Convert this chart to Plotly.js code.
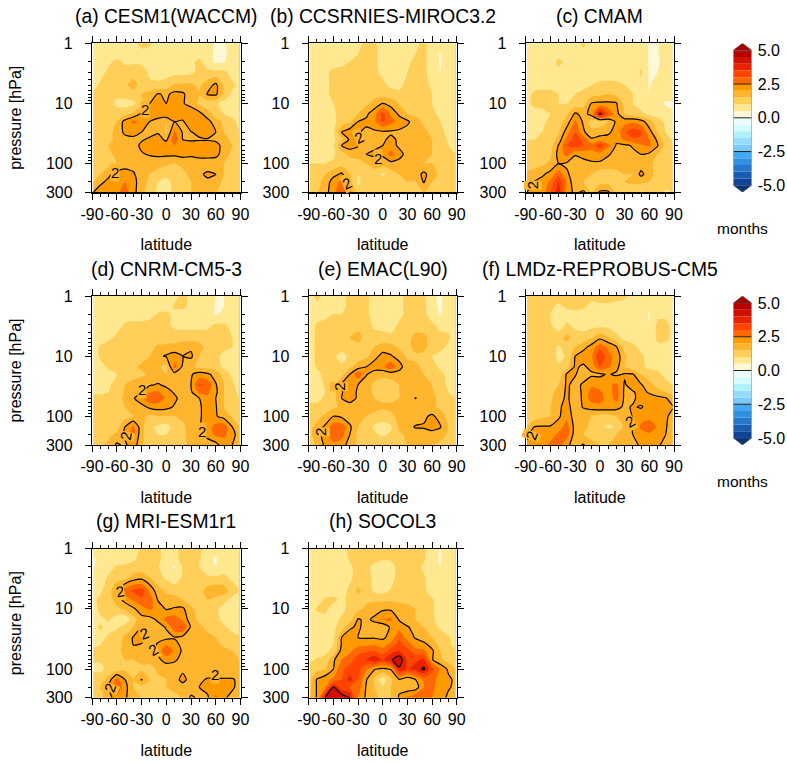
<!DOCTYPE html>
<html><head><meta charset="utf-8">
<script src="https://cdn.plot.ly/plotly-3.0.1.min.js"></script>
<style>html,body{margin:0;padding:0;background:#fff}</style></head>
<body><div id="chart" style="width:787px;height:762px"></div>
<script>
const lats=[-88.5,-80,-70,-60,-50,-40,-30,-20,-10,0,10,20,30,40,50,60,70,80,88.5];
const pressures=[1,1.5,2,3,5,7,10,15,20,30,40,50,70,100,150,200,300];
const panelTitles=['(a) CESM1(WACCM)','(b) CCSRNIES-MIROC3.2','(c) CMAM','(d) CNRM-CM5-3','(e) EMAC(L90)','(f) LMDz-REPROBUS-CM5','(g) MRI-ESM1r1','(h) SOCOL3'];
const latTicks=[-90,-60,-30,0,30,60,90];
const pTicks=[1,10,100,300];
const barTicks=[5,2.5,0,-2.5,-5];
const barLabels=['5.0','2.5','0.0','-2.5','-5.0'];
const barColors=['#0f4397','#1a5cb0','#2578cc','#3190e2','#45a8f5','#7ccbff','#96dcff','#b0f0ff','#d4fbff','#ebfdff',
 '#fff8d8','#ffe88f','#ffcf5a','#ffb52e','#ff9a00','#ff6800','#ff4300','#e82400','#d21000','#b70000'];
const triTop='#a30000', triBottom='#0b3478';
// contour labels of the 2-month line: [latitude, pressure, angle]
const labelsA=[[-25.6,12.8,0],[-62.6,139,0]];
const labelsB=[[-28.4,37,-25],[-6,81.5,0],[-43.8,218,-25]];
const labelsC=[[-80.7,226,-90]];
const labelsD=[[-28.8,35.6,0],[-48.5,212,-80],[43,180,0]];
const labelsE=[[-53,32,-90],[-75.4,184,-90]];
const labelsF=[[-82.7,212,-70],[36.7,123,-30]];
const labelsG=[[-56,5.2,-10],[-26.8,25.5,-20],[-15.6,46.5,-30],[-67.9,204,-70],[59,123,0]];
const labelsH=[];

const zA=[
[.8,.8,.8,.8,.8,.9,1.1,1.1,.8,.8,.8,.8,.8,.8,.7,.4,.4,.8,.8],
[.8,.8,.8,.8,.8,.8,.9,.8,.8,.8,.8,.8,.8,.8,.7,.4,.4,.7,.8],
[.8,.8,.9,1.1,.9,.9,.9,.8,.8,.8,.8,.8,.9,1.1,.8,.4,.45,.7,.8],
[.8,.8,1.1,1.2,1.2,1.3,1.2,.9,.8,.8,.8,.8,.9,1.1,1.1,1.1,1.1,.8,.8],
[.8,1.1,1.2,1.1,1.4,1.7,1.3,1.1,1.1,1.2,1.6,1.6,1.6,1.4,1.75,2.15,1.4,1.1,.9],
[1.1,1.2,1.2,1.1,1.2,1.3,1.5,1.7,2.05,1.9,2.15,2.1,1.7,1.5,2.05,2.1,1.4,.9,.8],
[1.1,1.2,1.2,.9,.8,.9,1.3,2.0,2.3,2.0,2.3,2.05,1.8,1.4,1.2,1.1,.8,.8,.8],
[1.2,1.2,1.3,1.2,1.3,1.6,2.1,2.3,2.4,2.4,2.4,2.2,2.4,2.2,1.7,1.3,1.0,.9,.8],
[1.3,1.3,1.4,1.5,2.2,2.6,2.4,2.0,1.7,1.5,2.0,1.95,2.3,2.4,2.2,1.7,1.4,1.1,.9],
[1.3,1.3,1.4,1.6,2.15,2.2,2.0,1.8,1.95,1.4,2.6,1.95,1.98,2.1,2.3,2.0,1.5,1.2,1.0],
[1.3,1.3,1.4,1.6,1.75,1.85,1.95,2.1,2.2,1.9,2.8,2.0,1.95,1.95,1.95,1.9,1.7,1.4,1.2],
[1.3,1.4,1.5,1.6,1.7,1.8,2.1,2.3,2.4,2.3,2.5,2.4,2.2,2.3,2.3,2.2,1.8,1.5,1.3],
[1.2,1.3,1.4,1.6,1.7,1.8,1.95,2.05,2.1,2.1,2.1,2.2,2.1,2.2,2.2,2.2,1.7,1.4,1.3],
[1.1,1.1,1.3,1.5,1.7,1.7,1.7,1.7,1.7,1.6,1.5,1.6,1.7,1.7,1.7,1.6,1.5,1.3,1.2],
[1.2,1.5,1.9,2.2,2.3,2.1,1.6,1.5,1.3,1.1,1.3,1.4,1.6,1.9,2.1,2.0,1.5,1.3,1.2],
[1.5,1.9,2.1,2.2,2.5,2.2,1.7,1.4,1.0,.9,1.1,1.4,1.5,1.7,1.9,1.7,1.4,1.3,1.2],
[2.0,2.2,2.3,2.4,2.7,2.2,1.6,1.3,.9,.8,1.1,1.3,1.5,1.6,1.5,1.5,1.4,1.3,1.2]];
const zB=[
[.7,.8,.8,.8,.8,.8,.9,1.1,1.1,.8,.8,.8,.8,.9,1.1,.8,.8,.8,.8],
[.7,.8,.8,.8,.8,.9,1.0,1.2,1.1,.8,.8,.8,.9,1.0,1.1,.8,.45,.8,.8],
[.8,.8,.8,.8,.9,1.0,1.1,1.2,1.1,.8,.8,.8,.9,1.1,1.1,.8,.45,.8,.8],
[.6,.8,.9,1.1,1.1,1.1,1.2,1.3,1.1,.9,.8,.8,1.0,1.1,1.1,.8,.5,.8,.8],
[.8,.8,.9,1.1,1.2,1.2,1.2,1.3,1.2,1.1,.9,.9,1.1,1.2,1.2,.9,.8,.8,.8],
[.8,.8,.9,1.1,1.2,1.2,1.2,1.3,1.3,1.3,1.2,1.1,1.2,1.3,1.2,1.0,.8,.8,.8],
[.8,.8,.8,1.0,1.2,1.3,1.3,1.4,1.7,2.0,1.8,1.5,1.3,1.3,1.2,1.0,.9,.8,.8],
[.8,.8,.8,.9,1.2,1.3,1.5,1.9,2.3,3.2,2.4,1.9,1.5,1.4,1.3,1.1,.9,.8,.8],
[.8,.8,.8,.9,1.2,1.4,2.0,2.1,2.4,3.1,2.7,2.3,2.1,1.7,1.4,1.2,1.0,.8,.8],
[.8,.8,.8,.9,2.0,2.3,2.05,1.9,1.9,1.9,1.9,1.9,1.8,2.0,1.6,1.4,1.1,.9,.8],
[.8,.8,.8,.9,1.3,2.1,2.05,1.85,1.8,1.9,2.15,1.9,1.8,1.7,1.7,1.5,1.2,.95,.85],
[.8,.8,.8,.9,2.0,2.3,2.05,1.8,1.9,2.0,2.2,1.9,1.8,1.7,2.0,1.5,1.3,1.0,.9],
[1.0,.9,.8,.9,1.3,1.6,1.7,2.0,2.1,2.1,2.7,2.2,1.8,1.7,1.6,1.5,1.3,1.2,1.0],
[1.0,1.0,1.0,1.1,1.3,1.3,1.3,1.5,1.7,1.7,1.8,1.8,1.7,1.6,1.5,1.5,1.4,1.3,1.1],
[1.3,1.4,1.5,1.8,2.1,1.5,1.0,1.2,1.3,.9,1.3,1.5,1.6,1.7,2.15,1.7,1.4,1.3,1.2],
[1.3,1.4,1.6,2.3,2.6,1.7,.9,1.2,1.3,1.2,1.3,1.5,1.5,1.5,2.05,1.5,1.4,1.3,1.2],
[1.3,1.4,1.8,2.3,3.0,2.1,1.2,1.3,1.3,1.3,1.3,1.5,1.5,1.5,1.5,1.5,1.4,1.3,1.2]];
const zC=[
[.8,.8,.8,.8,.8,.8,.8,1.1,.8,.8,.8,.8,.8,.8,.8,.45,.45,.8,.8],
[.8,.8,.8,.8,.8,.8,.8,.9,.8,.8,.8,.8,.8,.8,.8,.45,.45,.8,.8],
[.8,.8,.8,.8,1.1,.9,.8,.8,.8,.8,.8,.8,.8,.8,.9,.45,.4,.8,.8],
[.8,.8,.8,.8,.9,.8,.8,.8,.8,.8,.8,.8,.8,.8,1.05,.45,.5,.8,.8],
[.8,.8,.8,.8,.9,.8,.8,.9,1.0,1.1,1.1,1.1,1.0,.9,.9,.45,.8,.8,.8],
[.8,1.1,1.2,1.2,1.0,.9,1.0,1.1,1.3,1.4,1.5,1.4,1.2,1.0,.8,.5,.8,.8,.8],
[.9,1.1,1.1,1.1,1.0,1.0,1.2,1.3,2.05,2.1,2.1,2.05,1.3,1.0,.8,.7,.8,.4,.4],
[.8,.8,.9,1.0,1.2,1.4,2.1,1.8,2.2,4.15,3.0,2.2,1.5,1.3,1.1,.9,.8,.8,.6],
[.8,.8,.9,1.1,1.3,1.7,2.6,1.9,1.3,1.3,1.5,2.1,2.3,2.4,2.2,1.7,1.2,.9,.8],
[.9,.9,1.0,1.1,1.4,2.3,3.0,2.1,1.6,1.7,1.9,2.2,2.9,3.3,3.1,2.2,1.5,1.0,.9],
[1.0,1.0,1.1,1.2,1.7,2.7,3.2,2.9,2.1,2.3,2.2,2.1,2.6,2.9,2.9,2.5,1.9,1.2,.95],
[1.1,1.1,1.2,1.3,2.05,3.0,3.3,3.0,2.7,3.4,2.6,1.95,1.9,2.05,2.4,2.6,2.05,1.3,1.0],
[1.3,1.2,1.3,1.4,2.2,2.7,2.05,2.2,2.3,2.3,2.05,1.85,1.9,1.9,2.0,1.9,1.5,1.2,1.1],
[1.3,1.3,1.4,1.6,2.0,1.9,1.7,1.8,1.9,1.9,1.8,1.8,1.7,1.7,1.7,1.7,1.2,1.0,1.0],
[1.6,1.7,1.9,2.2,2.8,2.1,1.7,1.6,1.5,1.2,1.2,1.3,1.5,1.5,2.15,1.7,1.3,1.3,1.3],
[1.8,2.0,2.2,2.6,3.5,2.4,1.6,1.5,1.4,1.3,1.3,1.4,1.5,1.6,1.6,1.5,1.3,1.3,1.3],
[2.0,2.1,2.2,3.0,3.8,2.2,1.9,2.1,1.5,2.1,2.1,1.4,1.4,1.2,.9,1.3,1.2,.9,1.0]];
const zD=[
[.8,.8,.8,.8,.8,.8,.8,.8,.8,.8,.9,1.1,.9,.8,.8,.5,.5,.8,.8],
[.8,.8,.8,.8,.8,.8,.8,.8,.8,.8,1.05,1.1,.9,.8,.8,.45,.5,.8,.8],
[.8,.8,.8,.8,.8,.8,.8,.8,1.05,1.1,.9,.8,.8,.8,.8,.45,.6,.8,.8],
[.8,.8,.8,.8,1.05,1.1,1.1,1.2,1.2,1.1,.9,.8,.8,.8,.9,1.05,1.05,.9,.8],
[.8,.8,.9,1.1,1.2,1.2,1.3,1.2,1.1,1.1,1.2,1.3,1.3,1.3,1.2,1.2,1.1,1.0,.8],
[.8,1.05,1.2,1.2,1.2,1.2,1.3,1.3,1.6,1.7,1.7,1.8,1.9,1.7,1.3,1.2,1.1,1.0,.9],
[.8,1.05,1.1,1.1,1.2,1.3,1.3,1.5,1.9,2.05,2.2,2.0,2.1,1.5,1.3,1.1,.9,.9,.9],
[.8,.9,1.05,1.1,1.2,1.4,1.6,1.7,1.6,1.3,2.7,1.9,1.6,1.4,1.3,1.2,.9,.8,.8],
[.8,.8,.9,1.0,1.2,1.3,1.4,1.6,1.7,1.5,1.8,1.8,1.95,2.2,2.1,1.8,1.3,.9,.8],
[.8,.8,.9,1.2,1.5,1.7,1.8,1.95,2.05,1.9,1.8,1.6,2.0,3.1,2.9,2.05,1.5,1.1,.8],
[.95,.95,1.0,1.25,1.55,1.75,1.95,2.5,2.6,2.2,1.95,1.7,1.9,2.6,2.6,2.1,1.5,1.15,.9],
[1.1,1.1,1.1,1.3,1.6,1.95,2.3,3.0,2.9,2.4,2.1,1.8,1.7,2.0,2.4,2.0,1.5,1.2,1.0],
[1.1,1.1,1.1,1.3,1.5,1.7,1.85,2.1,2.2,2.15,1.95,1.7,1.7,1.9,2.3,2.05,1.5,1.2,1.0],
[1.1,1.1,1.1,1.2,1.3,1.5,1.6,1.4,1.5,1.5,1.5,1.6,1.6,1.9,2.3,2.05,1.8,1.4,1.2],
[1.2,1.2,1.2,1.3,2.0,2.6,1.7,1.1,.9,.8,1.2,1.4,1.7,1.95,2.3,2.7,2.8,2.0,1.5],
[1.2,1.2,1.4,1.6,2.1,2.8,1.6,1.2,1.0,1.0,1.3,1.4,1.7,1.95,2.2,2.6,2.6,2.3,1.6],
[1.3,1.4,1.6,2.1,1.9,2.3,1.6,1.2,1.2,1.2,1.3,1.4,1.6,1.9,1.7,1.8,2.3,2.0,1.6]];
const zE=[
[.8,1.1,.9,.8,.9,1.1,1.2,1.1,.8,.8,.8,.9,1.1,1.2,1.1,.6,.4,.8,.8],
[.8,.9,.8,.8,.9,1.1,1.2,1.1,.8,.8,.8,.9,1.1,1.2,1.1,.7,.4,.8,.8],
[.8,.8,.9,1.0,1.0,1.1,1.2,1.1,.8,.8,.8,.9,1.1,1.2,1.1,.8,.45,.8,.8],
[.8,1.05,1.1,1.2,1.2,1.3,1.3,1.2,.9,.8,.8,1.05,1.2,1.2,1.1,1.05,.9,.9,.8],
[.8,1.1,1.2,1.2,1.2,1.5,1.7,1.3,1.2,1.2,1.1,1.2,1.3,1.7,1.7,1.2,1.1,1.05,.8],
[.8,1.1,1.2,1.2,1.2,1.3,1.3,1.3,1.5,1.7,1.7,1.4,1.3,1.7,1.7,1.2,1.2,.9,.8],
[.8,1.1,1.2,1.1,.8,1.1,1.3,1.4,1.8,2.2,2.05,1.8,1.4,1.4,1.3,1.0,.8,.8,.8],
[.8,1.05,1.2,1.2,1.1,1.4,1.7,2.0,2.3,2.4,2.9,2.2,1.7,1.6,1.4,1.2,.9,.8,.8],
[.8,.9,1.1,1.2,1.3,2.0,2.9,2.05,1.7,1.6,1.7,1.8,1.9,1.8,1.5,1.3,1.1,.9,.8],
[.8,.8,1.05,1.3,2.05,2.4,2.0,1.7,1.4,1.3,1.3,1.5,1.7,1.8,1.7,1.5,1.2,.9,.8],
[.85,.85,1.0,1.3,1.95,2.35,1.9,1.6,1.45,1.35,1.35,1.5,1.7,1.85,1.7,1.55,1.3,1.0,.9],
[.9,.9,1.05,1.3,2.0,2.3,1.9,1.6,1.5,1.4,1.4,1.5,1.7,2.02,1.7,1.6,1.4,1.1,1.0],
[1.1,1.1,1.2,1.4,1.6,1.7,1.7,1.7,1.6,1.6,1.6,1.6,1.6,1.7,1.7,1.6,1.4,1.2,1.1],
[1.2,1.3,1.6,2.0,1.9,1.7,1.6,1.5,1.4,1.2,1.4,1.6,1.7,1.7,1.9,2.1,1.8,1.3,1.2],
[1.3,1.7,2.1,2.8,2.8,2.1,1.5,1.3,.9,.8,.9,1.6,1.8,2.05,2.05,2.2,2.05,1.5,1.3],
[1.3,1.8,2.2,3.0,2.7,2.0,1.4,1.3,1.1,.9,1.1,1.4,1.6,1.7,1.8,1.8,1.7,1.4,1.3],
[1.3,1.6,2.1,2.3,2.2,1.8,1.4,1.3,1.3,1.3,1.3,1.4,1.5,1.5,1.5,1.5,1.4,1.3,1.3]];
const zF=[
[1.1,1.2,1.2,1.2,1.2,1.2,1.1,1.1,1.1,1.2,1.2,1.1,1.05,.9,.8,.7,.9,.9,.9],
[1.1,1.2,1.2,1.1,.9,1.1,1.1,1.05,.9,.9,.9,.9,.9,.8,.7,.6,.9,.9,.9],
[1.1,1.2,1.2,1.0,.8,.8,.9,.9,.8,.8,.8,.8,.8,.8,.8,.45,.9,.9,.9],
[1.1,1.1,1.1,1.05,.8,1.05,.9,.8,.8,.8,.8,.8,.8,.8,.8,.5,1.1,1.1,.9],
[1.1,1.1,1.1,1.2,1.2,1.7,1.2,1.2,1.5,1.9,1.6,1.1,.9,.8,.8,.6,1.1,1.1,.9],
[1.1,1.1,1.1,1.2,.95,1.2,1.5,1.8,2.2,2.8,2.4,2.05,1.3,1.1,.9,.5,.9,.9,.9],
[1.1,1.1,1.2,1.2,.9,1.05,2.0,2.3,2.4,3.5,2.7,2.3,1.6,1.2,1.05,.9,.9,.9,.9],
[1.1,1.1,1.1,1.2,1.05,1.3,2.1,1.9,2.2,3.0,2.6,2.2,1.5,1.2,1.1,.9,.9,.9,.9],
[1.1,1.1,1.1,1.2,1.1,2.1,2.05,1.7,1.9,1.9,2.05,1.9,2.05,2.05,1.5,1.2,1.1,.9,.9],
[1.1,1.1,1.2,1.3,1.5,2.1,1.8,2.1,2.4,2.3,2.4,2.6,1.95,2.2,2.05,1.7,1.3,1.1,1.0],
[1.15,1.15,1.25,1.35,1.7,2.1,1.75,2.1,2.7,2.6,2.2,2.75,1.9,1.95,2.15,1.95,1.7,1.5,1.2],
[1.2,1.2,1.3,1.4,1.8,2.1,1.7,2.1,2.8,2.8,2.2,2.7,1.9,1.9,2.2,2.2,2.15,2.05,1.7],
[1.2,1.2,1.3,1.5,1.9,2.2,1.7,2.05,2.2,2.3,2.3,2.2,1.9,2.05,1.95,2.2,2.3,2.3,2.05],
[1.2,1.2,1.4,1.5,1.9,2.4,1.7,1.6,1.5,1.3,1.3,1.5,1.6,2.05,2.3,2.3,2.2,2.1,1.8],
[1.5,2.0,2.05,2.05,2.3,2.7,1.8,1.8,1.2,1.1,.9,1.05,1.6,2.05,2.6,2.9,2.4,2.05,1.7],
[1.9,2.2,2.2,2.3,2.6,2.8,1.7,1.5,1.4,1.3,1.4,1.5,1.7,2.0,2.3,2.4,2.3,2.0,1.7],
[2.1,2.2,2.3,2.6,2.7,2.1,1.8,2.05,1.6,1.5,1.5,1.6,1.8,1.9,2.05,2.1,2.05,1.9,1.7]];
const zG=[
[.8,.8,.8,.8,.8,.8,1.1,1.2,1.05,.9,.9,1.1,1.2,1.1,.8,.6,.8,.8,.8],
[.45,.6,.8,.8,.8,.9,1.2,1.2,1.05,.9,.9,1.1,1.2,1.05,.6,.45,.8,.8,.8],
[.45,.7,.8,1.05,1.1,1.2,1.2,1.2,1.05,.6,.45,1.05,1.1,1.0,.8,.5,.8,.8,.8],
[.7,.8,1.05,1.3,1.3,1.7,1.8,1.5,1.2,.9,.7,1.05,1.1,1.05,1.05,1.05,1.1,.9,.8],
[.8,.9,1.3,1.9,2.8,3.1,3.3,2.4,1.7,1.4,1.3,1.3,1.3,1.3,1.7,1.9,1.8,1.2,1.0],
[.9,1.1,1.3,1.7,2.2,2.6,2.9,2.8,1.95,1.7,1.7,1.5,1.3,1.3,1.5,1.3,1.1,.9,.8],
[.8,1.1,1.2,1.4,1.6,1.9,2.3,2.6,2.3,1.95,2.05,2.1,1.6,1.3,1.2,1.05,.9,.8,.8],
[.8,.9,1.05,.7,.6,1.3,1.8,1.8,2.1,2.7,2.8,2.4,1.7,1.4,1.3,1.1,.9,.8,.8],
[.9,1.05,.9,.9,1.2,1.5,2.05,1.8,1.8,2.05,2.9,3.1,1.9,1.6,1.4,1.2,1.05,.9,.8],
[.9,.9,1.05,1.3,1.6,2.05,2.2,1.9,1.9,1.85,1.95,1.8,1.8,1.7,1.6,1.5,1.3,1.1,1.05],
[.95,1.0,1.1,1.35,1.6,2.0,1.95,1.85,2.05,2.5,2.2,1.85,1.85,1.8,1.7,1.6,1.45,1.3,1.2],
[1.05,1.1,1.2,1.4,1.6,1.7,1.8,1.9,2.1,3.0,2.4,1.9,1.9,1.9,1.8,1.7,1.6,1.5,1.4],
[1.05,1.05,1.2,1.3,1.5,1.5,1.6,1.7,1.9,2.2,2.1,1.8,1.9,1.9,1.9,1.7,1.7,1.6,1.5],
[.9,.9,1.1,1.2,1.4,1.3,1.4,1.3,1.6,1.7,1.7,1.8,1.7,1.7,1.7,1.6,1.6,1.6,1.5],
[1.3,1.2,1.7,2.7,2.0,1.5,2.03,1.5,1.4,1.5,1.6,2.3,1.6,1.9,2.05,2.05,2.05,2.05,1.9],
[1.3,1.3,2.05,2.9,2.2,1.5,1.4,1.4,1.4,1.5,1.6,1.6,1.7,2.0,2.2,2.3,2.3,2.1,1.8],
[1.3,1.4,1.7,2.4,2.1,1.6,1.5,1.5,1.4,1.4,1.4,1.5,2.1,1.9,1.9,2.6,2.1,1.8,1.6]];
const zH=[
[.8,.8,.8,.8,.8,1.1,1.2,1.2,1.2,1.2,1.2,1.2,1.2,1.2,1.05,.8,.45,.8,.8],
[.8,.8,.8,.8,.8,1.05,1.2,1.2,1.2,1.05,1.05,1.2,1.2,1.2,1.05,.7,.45,.8,.8],
[.8,.8,.8,.8,.8,.9,1.2,1.2,.8,.45,.8,1.2,1.2,1.2,.9,.7,.5,.8,.8],
[.8,.8,.8,.8,.8,.9,1.2,1.3,.8,.8,.8,1.2,1.3,1.2,1.05,.8,.8,.8,.8],
[.8,.8,.8,.8,.8,1.1,1.6,1.3,.9,.8,1.05,1.2,1.3,1.3,1.1,.8,.8,.8,.8],
[.8,.8,1.05,1.1,.9,1.1,1.3,1.4,1.4,1.4,1.4,1.4,1.4,1.3,1.2,1.05,.8,.8,.8],
[.8,1.05,1.1,.8,.9,1.1,1.4,1.6,1.8,1.9,1.9,1.7,1.6,1.5,1.3,1.05,.8,.8,.5],
[.8,.8,.9,.9,1.05,1.3,2.05,1.9,2.1,2.5,2.6,1.95,1.6,1.5,1.3,1.1,.8,.8,.8],
[.8,.8,.8,.9,1.2,1.9,2.1,1.8,1.8,1.6,2.1,2.3,2.05,1.8,1.5,1.2,.9,.8,.8],
[.8,.8,.8,.9,2.0,2.3,2.0,1.95,1.95,1.9,2.2,2.9,2.3,1.95,1.7,1.5,1.2,1.05,.8],
[.8,.8,.85,1.0,2.05,2.3,2.4,2.4,2.5,2.3,2.7,3.2,2.8,2.3,2.2,1.8,1.35,1.1,.9],
[.8,.8,.9,1.1,2.2,2.4,2.8,2.9,3.0,2.7,3.3,3.5,3.2,2.7,2.6,2.1,1.5,1.2,1.05],
[.9,1.05,1.1,1.9,2.5,2.8,3.3,3.5,3.9,3.4,3.9,4.4,3.4,3.4,3.6,2.05,1.6,1.3,1.2],
[1.2,1.3,1.5,2.0,2.9,3.2,3.2,2.6,2.05,1.9,2.05,3.9,3.4,3.7,4.1,3.2,2.4,1.9,1.5],
[1.4,2.05,2.3,2.6,3.0,3.7,3.0,2.05,1.4,.7,1.4,1.95,1.6,2.0,2.6,2.6,2.4,2.1,1.9],
[1.4,2.05,2.4,4.0,3.2,3.0,2.8,1.95,1.5,1.05,1.5,1.9,1.6,1.7,2.5,2.6,2.3,2.05,1.9],
[1.5,2.05,4.0,4.6,4.4,4.0,2.5,1.9,1.6,1.4,1.5,2.05,2.6,2.9,2.9,2.5,2.2,1.9,1.9]];
const panelData=[zA,zB,zC,zD,zE,zF,zG,zH];
const panelLabels=[labelsA,labelsB,labelsC,labelsD,labelsE,labelsF,labelsG,labelsH];
panelData.forEach((z,i)=>{ if(z.length!==17) throw new Error('rows '+i); z.forEach((r,j)=>{ if(r.length!==19) throw new Error('cols panel '+i+' row '+j+' len '+r.length); }); });

// --- layout helpers (pixel geometry of the page) ---
const W=787,H=762;
const colX=[[92,240.5],[308.7,456.7],[525.7,674]];
const rowY=[[43.3,192.3],[296,445],[548.7,697.7]];
const px=x=>x/W, py=y=>1-y/H;

const csc=[];
barColors.forEach((c,i)=>{csc.push([i/20,c]);csc.push([(i+1)/20,c]);});

const traces=[],layout={width:W,height:H,margin:{l:0,r:0,t:0,b:0},paper_bgcolor:'#fff',plot_bgcolor:'#fff',showlegend:false,
 font:{family:'Liberation Sans, Arial, sans-serif',size:16,color:'#000'},annotations:[]};
const minorLat=[];for(let a=-90;a<=90;a+=10){if(a%30!==0)minorLat.push(a);}
const minorP=[2,3,4,5,6,7,8,9,20,30,40,50,60,70,80,90,200];
panelData.forEach((z,i)=>{
 const n=i+1,c=i%3,r=Math.floor(i/3),xa='x'+n,ya='y'+n;
 traces.push({type:'contour',x:lats,y:pressures,z:z,xaxis:xa,yaxis:ya,autocontour:false,zmin:-5,zmax:5,
  contours:{coloring:'fill',start:-5,end:5,size:0.5,showlines:false},colorscale:csc,showscale:false,line:{width:0,smoothing:0.6},hoverinfo:'skip'});
 traces.push({type:'contour',x:lats,y:pressures,z:z,xaxis:xa,yaxis:ya,autocontour:false,
  contours:{coloring:'none',start:2,end:4,size:2,showlabels:false},
  line:{color:'#000',width:1.2,smoothing:0.6},showscale:false,hoverinfo:'skip'});
 const common={showgrid:false,zeroline:false,showline:true,linecolor:'#000',linewidth:1.2,mirror:'ticks',ticks:'outside',ticklen:6,tickwidth:1,tickcolor:'#000',tickangle:0,tickfont:{size:16}};
 layout['xaxis'+n]=Object.assign({},common,{ticklabelstandoff:1,domain:[px(colX[c][0]),px(colX[c][1])],anchor:ya,range:[-90,90],tickmode:'array',tickvals:latTicks,ticktext:latTicks.map(String),
   minor:{tickmode:'array',tickvals:minorLat,ticks:'outside',ticklen:3,tickwidth:1,tickcolor:'#000',showgrid:false},
   title:{text:'latitude',font:{size:16},standoff:17}});
 layout['yaxis'+n]=Object.assign({},common,{ticklabelstandoff:9,domain:[py(rowY[r][1]),py(rowY[r][0])],anchor:xa,type:'log',range:[Math.log10(300),0],tickmode:'array',tickvals:pTicks,ticktext:pTicks.map(String),
   minor:{tickmode:'array',tickvals:minorP,ticks:'outside',ticklen:3,tickwidth:1,tickcolor:'#000',showgrid:false},
   title:c===0?{text:'pressure [hPa]',font:{size:16},standoff:20}:undefined});
 layout.annotations.push({xref:'paper',yref:'paper',x:px((colX[c][0]+colX[c][1])/2),y:py(rowY[r][0]-27),text:panelTitles[i],showarrow:false,font:{size:19.3},xanchor:'center',yanchor:'middle'});
 panelLabels[i].forEach(l=>layout.annotations.push({xref:xa,yref:ya,x:l[0],y:Math.log10(l[1]),text:'2',textangle:l[2],showarrow:false,font:{size:15},bgcolor:'#ffb52e',borderpad:0,xanchor:'center',yanchor:'middle'}));
});
[0,1].forEach(k=>{
 const n=9+k,xa='x'+n,ya='y'+n,lows=barColors.map((_,i)=>-5+i*0.5);
 traces.push({type:'bar',x:lows.map(()=>0),y:lows.map(()=>0.5),base:lows,width:1,marker:{color:barColors,line:{width:0}},xaxis:xa,yaxis:ya,hoverinfo:'skip',orientation:'v'});
 traces.push({type:'scatter',mode:'lines',x:[-.5,0,.5,-.5],y:[5,5.52,5,5],fill:'toself',fillcolor:triTop,line:{color:'#555',width:.6},xaxis:xa,yaxis:ya,hoverinfo:'skip'});
 traces.push({type:'scatter',mode:'lines',x:[-.5,0,.5,-.5],y:[-5,-5.52,-5,-5],fill:'toself',fillcolor:triBottom,line:{color:'#555',width:.6},xaxis:xa,yaxis:ya,hoverinfo:'skip'});
 [2.5,0,-2.5].forEach(v=>traces.push({type:'scatter',mode:'lines',x:[-.5,.5],y:[v,v],line:{color:'#222',width:1},xaxis:xa,yaxis:ya,hoverinfo:'skip'}));
 traces.push({type:'scatter',mode:'lines',x:[-.5,-.5,null,.5,.5],y:[-5,5,null,-5,5],line:{color:'#888',width:1},xaxis:xa,yaxis:ya,hoverinfo:'skip'});
 layout['xaxis'+n]={domain:[px(733.3),px(751.7)],anchor:ya,range:[-.5,.5],visible:false,fixedrange:true};
 layout['yaxis'+n]={domain:[py(rowY[k][1]),py(rowY[k][0])],anchor:xa,side:'right',range:[-5.52,5.52],tickmode:'array',tickvals:barTicks,ticktext:barLabels,showgrid:false,zeroline:false,showline:false,ticks:'',ticklabelstandoff:5,tickfont:{size:16}};
 layout.annotations.push({xref:'paper',yref:'paper',x:px(742.5),y:py(k===0?228:481),text:'months',showarrow:false,font:{size:15.5},xanchor:'center',yanchor:'middle'});
});
Plotly.newPlot('chart',traces,layout,{displayModeBar:false,staticPlot:true});
</script></body></html>
